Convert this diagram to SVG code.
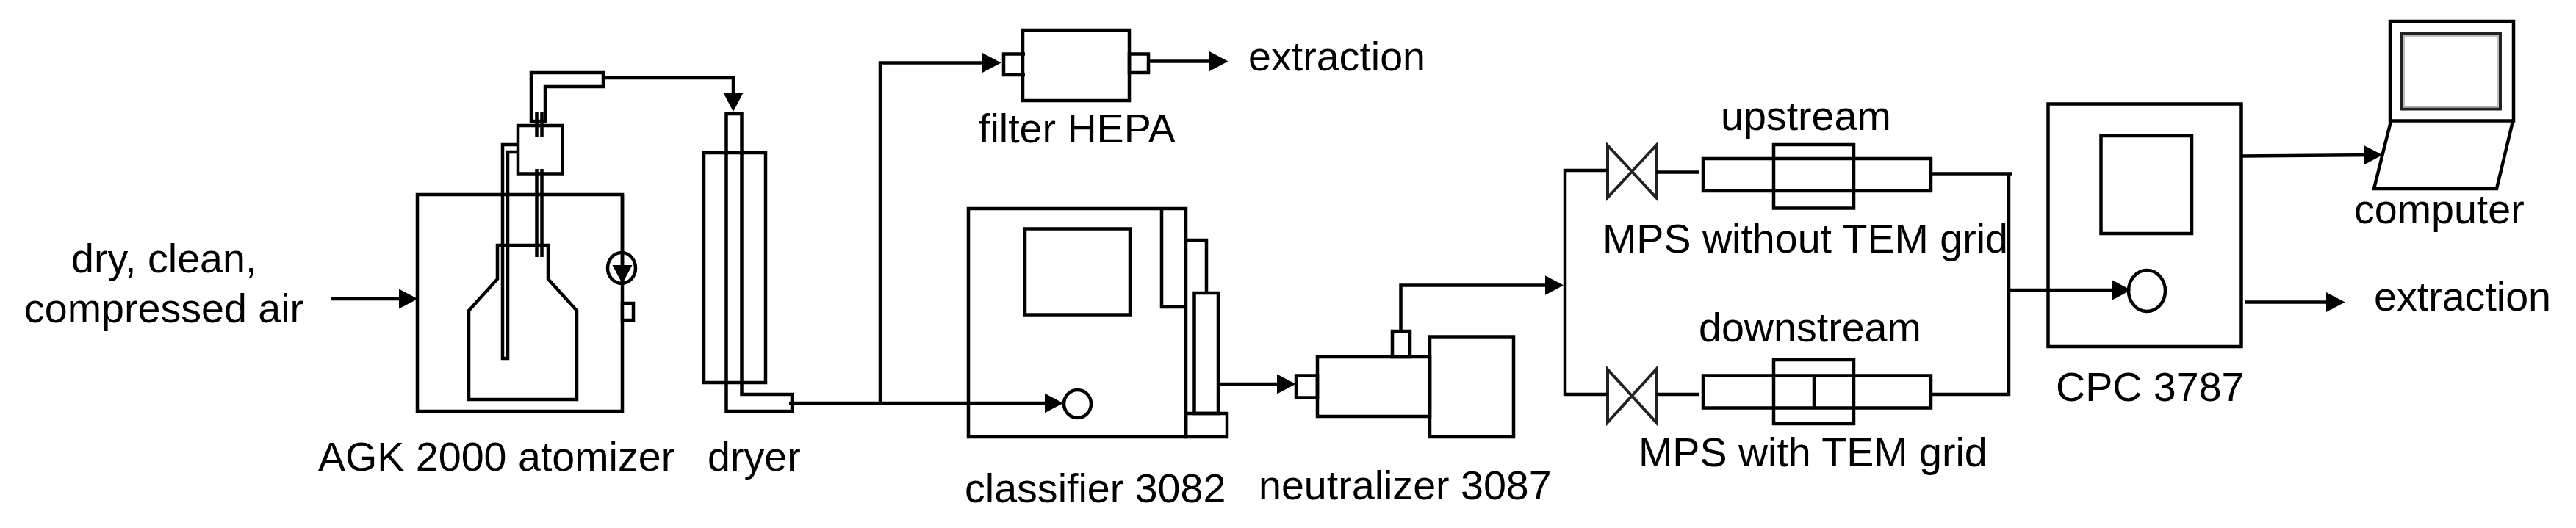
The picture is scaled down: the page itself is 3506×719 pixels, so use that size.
<svg xmlns="http://www.w3.org/2000/svg" width="3506" height="719" viewBox="0 0 3506 719">
<style>
text{font-family:"Liberation Sans",Arial,sans-serif;font-size:55.6px;fill:#000}
.s{fill:none;stroke:#000;stroke-width:4.5}
.f{fill:#fff;stroke:#000;stroke-width:4.5}
.c{fill:none;stroke:#000;stroke-width:4.5}
.v{fill:none;stroke:#222;stroke-width:4}
</style>
<defs>
<marker id="a" markerUnits="userSpaceOnUse" markerWidth="27" markerHeight="28" refX="19" refY="14" orient="auto"><path d="M0,0.5L25.500,14L0,27.500Z" fill="#000"/></marker>
</defs>
<rect width="3506" height="719" fill="#fff"/>

<g id="atomizer">
<rect class="s" x="568" y="265" width="279" height="295"/>
<path class="s" d="M677,380V334H746V380L785,423V544H638V423Z"/>
<path class="s" d="M705,197H684V488H691V207H705"/>
<path class="s" d="M730.500,230V350M737.500,230V350M730.500,153V187M737.500,153V187"/>
<rect class="s" x="705" y="171" width="60.500" height="65.500"/>
<path class="s" d="M723,165V99H821V118H742V165Z"/>
<ellipse class="s" cx="846" cy="365" rx="19" ry="21"/>
<rect class="f" x="847" y="413" width="15" height="23"/>
</g>
<g id="dryer">
<rect class="s" x="958" y="208" width="84" height="313"/>
<path class="s" d="M988.500,155H1009.500V537H1078V560H988.500Z"/>
</g>
<g id="filter">
<rect class="s" x="1392" y="41" width="145" height="96"/>
<path class="s" d="M1395,73.500H1366V102H1395"/>
<rect class="s" x="1537" y="73.500" width="26" height="25.500"/>
</g>
<g id="classifier">
<rect class="s" x="1318" y="284" width="296" height="311"/>
<rect class="s" x="1395" y="311.500" width="143" height="117"/>
<path class="s" d="M1581,284V418H1614"/>
<ellipse class="s" cx="1466.500" cy="550" rx="18.500" ry="19"/>
<path class="s" d="M1614,327H1642V399"/>
<rect class="s" x="1625.500" y="399" width="32.500" height="164"/>
<rect class="s" x="1614" y="563" width="56" height="32"/>
</g>
<g id="neutralizer">
<rect class="s" x="1764" y="511.500" width="29" height="30"/>
<rect class="s" x="1793" y="486" width="153" height="81"/>
<rect class="s" x="1946" y="458.500" width="114" height="136.500"/>
<rect class="s" x="1895" y="451" width="24" height="35"/>
</g>
<g id="mps-upstream">
<path class="v" d="M2188,198L2254,269V198L2188,269Z"/>
<rect class="s" x="2318" y="216" width="310" height="44"/>
<rect class="s" x="2414" y="197" width="109" height="86.500"/>
</g>
<g id="mps-downstream">
<path class="v" d="M2188,503L2254,575V503L2188,575Z"/>
<rect class="s" x="2318" y="511.500" width="310" height="44"/>
<rect class="s" x="2414" y="490" width="109" height="87"/>
<path class="s" d="M2469,511.500V555.500"/>
</g>
<g id="cpc">
<rect class="s" x="2787.500" y="141.500" width="263" height="330.500"/>
<rect class="s" x="2859.500" y="185" width="123.500" height="133"/>
<ellipse class="s" cx="2922" cy="396" rx="25" ry="28"/>
</g>
<g id="computer">
<rect class="s" x="3253" y="29" width="168" height="135.500"/>
<rect class="v" x="3269" y="46" width="134" height="102.500" stroke-width="5"/>
<rect x="3272" y="49" width="128" height="96.500" fill="none" stroke="#aaa" stroke-width="1.500"/>
<path class="s" d="M3254,165L3231,257H3398L3420,165"/>
</g>

<g id="connectors">
<path class="c" d="M451,407H562" marker-end="url(#a)"/>
<path class="c" d="M821,106H998V145.500" marker-end="url(#a)"/>
<path class="c" d="M847,264.500V380" marker-end="url(#a)"/>
<path class="c" d="M1074,549H1440.500" marker-end="url(#a)"/>
<path class="c" d="M1198,549V85.500H1356" marker-end="url(#a)"/>
<path class="c" d="M1563,83.500H1665" marker-end="url(#a)"/>
<path class="c" d="M1658,523H1757" marker-end="url(#a)"/>
<path class="c" d="M1906.500,450V388.500H2121.500" marker-end="url(#a)"/>
<path class="c" d="M2188,232H2130V537H2188"/>
<path class="c" d="M2254,234.500H2313M2254,537H2313"/>
<path class="c" d="M2628,236.500H2738M2734,236.500V537H2628"/>
<path class="c" d="M2734,395H2894" marker-end="url(#a)"/>
<path class="c" d="M3050.500,212.500L3236,211" marker-end="url(#a)"/>
<path class="c" d="M3056,411.500H3185" marker-end="url(#a)"/>
</g>

<g id="labels">
<text x="97" y="371">dry, clean,</text>
<text x="33" y="439">compressed air</text>
<text x="433" y="641">AGK 2000 atomizer</text>
<text x="963" y="641">dryer</text>
<text x="1332" y="194">filter HEPA</text>
<text x="1699" y="96">extraction</text>
<text x="1313" y="684">classifier 3082</text>
<text x="1713" y="680">neutralizer 3087</text>
<text x="2342" y="177">upstream</text>
<text x="2181" y="344">MPS without TEM grid</text>
<text x="2312" y="465">downstream</text>
<text x="2230" y="635">MPS with TEM grid</text>
<text x="2798" y="546">CPC 3787</text>
<text x="3204" y="304">computer</text>
<text x="3231" y="423">extraction</text>
</g>
</svg>
